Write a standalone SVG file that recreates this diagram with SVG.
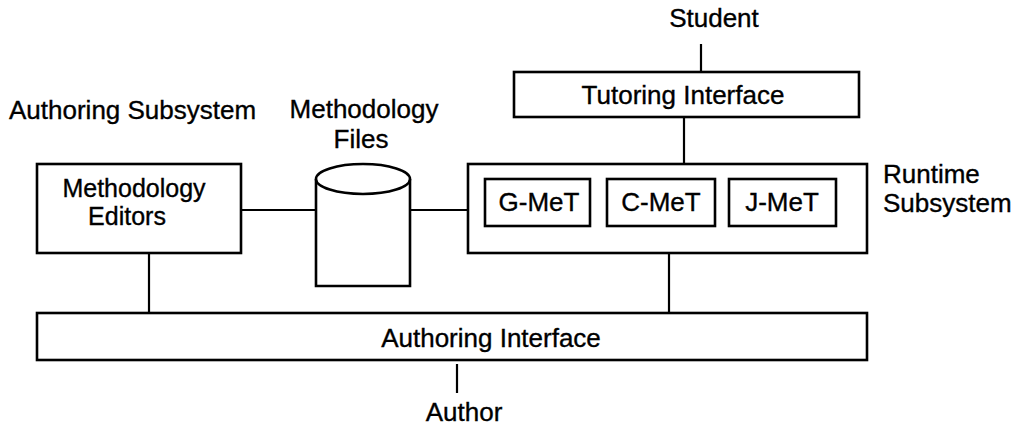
<svg xmlns="http://www.w3.org/2000/svg" width="1019" height="427" viewBox="0 0 1019 427">
<style>
text{font-family:"Liberation Sans",Arial,sans-serif;font-size:26px;fill:#000;stroke:#000;stroke-width:0.35}
.c{text-anchor:middle}
.s{font-size:25px}
.box{fill:#fff;stroke:#000;stroke-width:2.6}
.ln{stroke:#000;stroke-width:2.2;fill:none}
</style>
<rect width="1019" height="427" fill="#fff"/>
<g id="connectors">
<line class="ln" x1="701" y1="44" x2="701" y2="72"/>
<line class="ln" x1="684" y1="117" x2="684" y2="164"/>
<line class="ln" x1="241" y1="210" x2="316" y2="210"/>
<line class="ln" x1="410" y1="210" x2="468" y2="210"/>
<line class="ln" x1="149" y1="253" x2="149" y2="313"/>
<line class="ln" x1="669" y1="253" x2="669" y2="313"/>
<line class="ln" x1="457" y1="364" x2="457" y2="393"/>
</g>
<g id="student"><text class="c" x="714" y="27">Student</text></g>
<g id="tutoring-interface">
<rect class="box" x="514" y="72" width="345" height="45"/>
<text class="c" x="683" y="104">Tutoring Interface</text>
</g>
<g id="authoring-subsystem-label"><text x="9" y="119">Authoring Subsystem</text></g>
<g id="methodology-files-label">
<text class="c" x="364" y="118">Methodology</text>
<text class="c" x="361" y="148">Files</text>
</g>
<g id="methodology-editors">
<rect class="box" x="37" y="164" width="204" height="89"/>
<text class="c s" x="134" y="197">Methodology</text>
<text class="c s" x="127" y="225">Editors</text>
</g>
<g id="methodology-files">
<path class="box" d="M316,179 L316,286 L410,286 L410,179"/>
<ellipse class="box" cx="363" cy="179" rx="47" ry="15"/>
</g>
<g id="runtime-subsystem">
<rect class="box" x="468" y="164" width="399" height="89"/>
<text x="883" y="183">Runtime</text>
<text x="883" y="212">Subsystem</text>
</g>
<g id="g-met">
<rect class="box" x="485" y="179" width="105" height="47"/>
<text class="c" x="539" y="211">G-MeT</text>
</g>
<g id="c-met">
<rect class="box" x="607" y="179" width="108" height="47"/>
<text class="c" x="661" y="211">C-MeT</text>
</g>
<g id="j-met">
<rect class="box" x="729" y="179" width="107" height="47"/>
<text class="c" x="782" y="211">J-MeT</text>
</g>
<g id="authoring-interface">
<rect class="box" x="37" y="313" width="830" height="47"/>
<text class="c" x="491" y="347">Authoring Interface</text>
</g>
<g id="author"><text class="c" x="464" y="421">Author</text></g>
</svg>
